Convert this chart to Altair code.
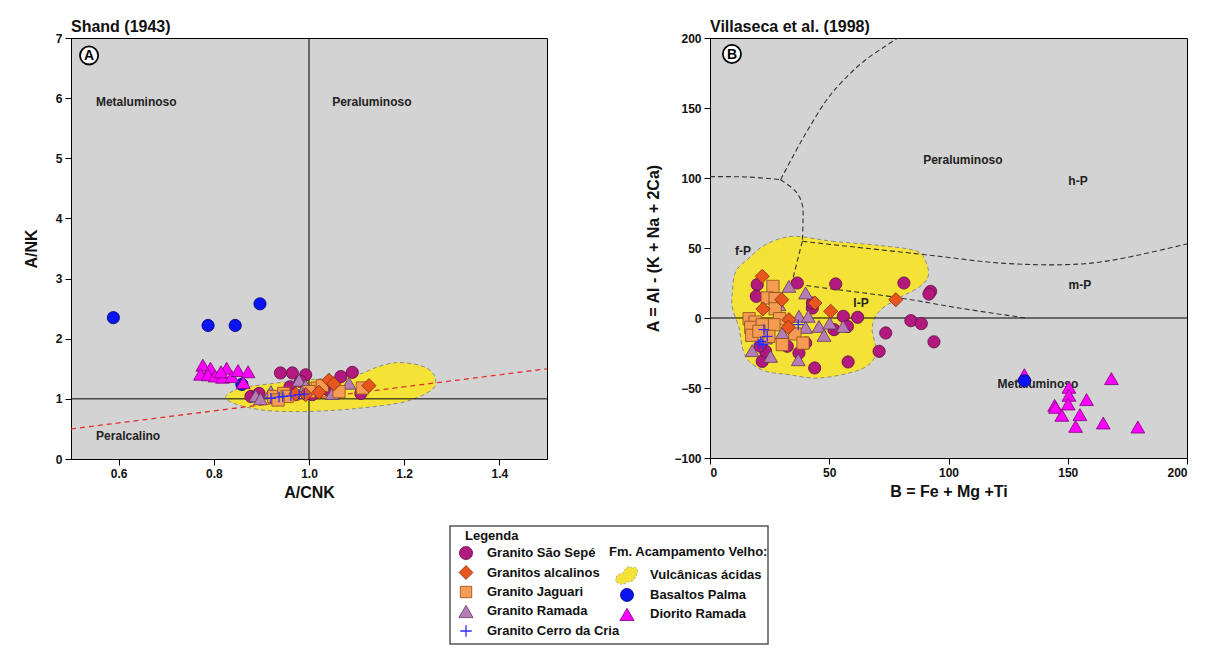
import altair as alt
import pandas as pd

FONT = "Liberation Sans"
BG = "#D3D3D3"
YEL = "#F4E336"

# ---------------- series styles ----------------
C_SEPE, S_SEPE = "#B3187E", "#5C0F42"
C_ALC, S_ALC = "#E8561E", "#7A2C0C"
C_JAG, S_JAG = "#F59B52", "#8A4C16"
C_RAM, S_RAM = "#B57DB3", "#5E3560"
C_CRIA = "#2B2BFF"
C_BAS, S_BAS = "#0A14F0", "#00007A"
C_DIO, S_DIO = "#FF00FF", "#7A007A"
PLUS = "M-1,0L1,0M0,-1L0,1"
BLOB = ("M-0.9,0.5 C-1,0.1 -0.7,-0.2 -0.35,-0.15 C-0.2,-0.6 0.2,-0.9 0.4,-0.6 "
        "C0.7,-0.8 1,-0.5 0.8,-0.1 C0.7,0.3 0.4,0.6 0.1,0.5 C-0.2,0.8 -0.6,0.8 -0.9,0.5 Z")

# ---------------- Panel A data (A/CNK vs A/NK) ----------------
a_xticks = [0.6, 0.8, 1.0, 1.2, 1.4]
a_yticks = [0, 1, 2, 3, 4, 5, 6, 7]

a_sepe_x = [0.94, 0.965, 0.993, 0.982, 1.067, 1.091, 0.878, 0.895, 1.109, 0.933, 1.007, 0.96, 1.04]
a_sepe_y = [1.43, 1.43, 1.40, 1.29, 1.37, 1.44, 1.04, 1.09, 1.09, 1.01, 1.07, 1.2, 1.15]
a_ram_x = [0.888, 0.898, 0.979, 0.993, 1.084, 1.049, 0.92]
a_ram_y = [1.05, 1.0, 1.31, 1.22, 1.26, 1.09, 1.12]
a_jag_x = [0.926, 0.947, 0.954, 1.017, 1.063, 1.112, 1.0, 0.935, 1.028]
a_jag_y = [1.04, 1.09, 1.04, 1.18, 1.12, 1.18, 1.12, 0.98, 1.22]
a_alc_x = [1.042, 1.052, 1.021, 0.993, 0.972, 1.126]
a_alc_y = [1.31, 1.25, 1.11, 1.07, 1.08, 1.22]
a_cria_x = [0.92, 0.937, 0.945, 0.962, 0.979, 0.99]
a_cria_y = [1.01, 1.03, 1.04, 1.05, 1.07, 1.08]
a_bas_x = [0.589, 0.788, 0.845, 0.897, 0.859]
a_bas_y = [2.35, 2.22, 2.22, 2.58, 1.24]
a_dio_x = [0.777, 0.793, 0.772, 0.788, 0.803, 0.818, 0.827, 0.815, 0.838, 0.851, 0.872, 0.862]
a_dio_y = [1.56, 1.51, 1.41, 1.40, 1.38, 1.36, 1.51, 1.45, 1.37, 1.47, 1.45, 1.27]

a_vulc_x = [0.825, 0.845, 0.87, 0.95, 1.02, 1.1, 1.14, 1.18, 1.22, 1.25, 1.265, 1.258, 1.2, 1.1, 1.0, 0.92, 0.87, 0.835]
a_vulc_y = [1.04, 1.15, 1.2, 1.28, 1.33, 1.40, 1.52, 1.60, 1.58, 1.50, 1.35, 1.15, 0.95, 0.84, 0.79, 0.8, 0.86, 0.95]

a_ref_x = [0.5, 1.5]
a_ref_y = [0.5, 1.5]

a_lab_text = ["Metaluminoso", "Peraluminoso", "Peralcalino"]
a_lab_x = [0.637, 1.132, 0.62]
a_lab_y = [5.94, 5.94, 0.38]

# ---------------- Panel B data (B vs A) ----------------
b_xticks = [0, 50, 100, 150, 200]
b_yticks = [-100, -50, 0, 50, 100, 150, 200]

b_sepe_x = [19.8, 19.4, 36.6, 52.7, 81.3, 92.5, 91.8, 55.9, 61.9, 52.0, 84.2, 88.6, 93.9, 73.7, 70.9, 57.9,
            43.9, 21.9, 37.3, 42.9, 42.9, 32.4, 23.3, 57.6, 40.1, 21.0]
b_sepe_y = [23.8, 15.5, 25.0, 24.3, 25.0, 19.0, 17.1, 1.2, 0.5, -8.3, -1.9, -4.0, -17.0, -10.7, -23.8, -31.4,
            -35.7, -31.0, -25.0, 7.1, 10.7, -20.2, -23.8, -6.0, -17.9, -20.0]
b_ram_x = [33.1, 40.1, 37.3, 41.2, 45.7, 50.2, 55.8, 47.8, 40.1, 17.7, 25.4, 37.0, 30.3, 23.3, 28.9]
b_ram_y = [22.6, 17.9, 1.2, 1.2, -6.0, -3.6, -6.0, -12.4, -6.7, -23.3, -27.4, -29.8, -10.7, -14.3, 9.5]
b_jag_x = [26.4, 24.0, 27.3, 27.3, 16.4, 18.9, 17.1, 17.5, 29.2, 26.8, 35.6, 39.0, 30.3, 24.7, 21.9, 20.5]
b_jag_y = [22.6, 14.3, 13.8, 6.6, -0.5, -2.9, -6.7, -12.4, -0.5, -4.8, -11.4, -17.9, -19.0, -13.1, -4.8, -9.5]
b_alc_x = [21.9, 30.1, 22.2, 44.0, 50.6, 33.1, 32.8, 77.9]
b_alc_y = [29.8, 13.1, 6.4, 10.7, 4.8, -1.2, -6.7, 13.1]
b_cria_x = [22.6, 24.0, 21.3, 20.5, 22.2, 37.0]
b_cria_y = [-8.3, -13.1, -16.7, -18.6, -19.0, -4.8]
b_bas_x = [131.9]
b_bas_y = [-44.8]
b_dio_x = [131.8, 168.3, 150.5, 150.5, 157.9, 144.5, 144.9, 150.2, 147.5, 155.1, 153.3, 164.9, 179.4]
b_dio_y = [-40.5, -43.3, -49.5, -55.2, -58.3, -62.4, -63.8, -61.4, -69.5, -69.0, -77.4, -75.0, -77.9]

b_vulc_x = [34.5, 51.3, 70, 86.2, 90.4, 91.5, 87.6, 79.2, 70.9, 68, 69.5, 68, 61.1, 45.7, 33.1, 23.3, 16.4,
            13.6, 12.2, 9.4, 9.4, 10.8, 16.4, 23.3]
b_vulc_y = [58.3, 54.8, 52, 48.1, 40.5, 30, 22, 14.3, 4.8, -7.1, -21.4, -31, -38, -42.9, -40.5, -38, -31,
            -21.4, -7.1, 7.1, 19, 33.3, 42.9, 52.4]

# dashed field boundaries (segment id, x, y)
b_seg_id = [1, 1, 1,
            2, 2, 2, 2, 2, 2, 2,
            3, 3, 3, 3, 3,
            4, 4, 4, 4, 4, 4, 4,
            5, 5,
            6, 6, 6, 6, 6]
b_seg_x = [0, 16, 29.6,
           29.6, 35.9, 41.5, 48.5, 55.5, 65.3, 78.8,
           29.6, 35.9, 38.7, 39.0, 38.7,
           38.7, 51.3, 90.4, 121.2, 149.1, 170.1, 200,
           38.7, 34.5,
           34.5, 40.1, 77.9, 104.5, 132.4]
b_seg_y = [101, 100.7, 98.8,
           98.8, 119, 135.7, 154.8, 169, 184.5, 200,
           98.8, 90.5, 80.9, 69, 54.8,
           54.8, 52.4, 45.2, 39.3, 38.1, 41.7, 52.9,
           54.8, 26.5,
           26.5, 23.3, 14.8, 7.1, 0]

b_lab_text = ["Peraluminoso", "h-P", "m-P", "f-P", "l-P", "Metaluminoso"]
b_lab_x = [106, 154.3, 155.1, 13.8, 63.3, 137.5]
b_lab_y = [113, 97.9, 23.6, 47.9, 10.7, -47.1]

# ---------------- Legend ----------------
leg1_labels = ["Granito São Sepé", "Granitos alcalinos", "Granito Jaguari", "Granito Ramada", "Granito Cerro da Cria"]
leg1_rows = [1, 2, 3, 4, 5]
leg2_labels = ["Vulcânicas ácidas", "Basaltos Palma", "Diorito Ramada"]
leg2_rows = [2.15, 3.15, 4.15]


# ---------------- helpers ----------------
def make_xy(xdom, ydom, xticks, yticks, xtitle, ytitle, xfmt, yfmt, ytp):
    def X(f="x"):
        return alt.X(f"{f}:Q", scale=alt.Scale(domain=xdom, nice=False, zero=False),
                     axis=alt.Axis(values=xticks, format=xfmt, title=xtitle, titlePadding=5))
    def Y(f="y"):
        return alt.Y(f"{f}:Q", scale=alt.Scale(domain=ydom, nice=False, zero=False),
                     axis=alt.Axis(values=yticks, format=yfmt, title=ytitle, titlePadding=ytp))
    return X, Y


def pts(xs, ys, X, Y, shape, fill, stroke, size, filled=True, sw=0.8):
    df = pd.DataFrame({"x": xs, "y": ys})
    kw = dict(shape=shape, size=size, opacity=1, strokeWidth=sw, stroke=stroke)
    if filled:
        kw.update(filled=True, fill=fill)
    else:
        kw.update(filled=False, fill="transparent")
    return alt.Chart(df).mark_point(**kw).encode(x=X(), y=Y())


def poly(xs, ys, X, Y):
    df = pd.DataFrame({"x": xs, "y": ys, "i": list(range(len(xs)))})
    return alt.Chart(df).mark_line(fill=YEL, stroke="#8a8a8a", strokeDash=[4, 3], strokeWidth=1,
                                   interpolate="cardinal-closed").encode(x=X(), y=Y(), order="i:Q")


def labels(texts, xs, ys, X, Y):
    df = pd.DataFrame({"x": xs, "y": ys, "t": texts})
    return alt.Chart(df).mark_text(font=FONT, fontSize=12, fontWeight="bold", color="#222").encode(
        x=X(), y=Y(), text="t:N")


def badge(letter, x, y, X, Y):
    df = pd.DataFrame({"x": [x], "y": [y], "t": [letter]})
    c = alt.Chart(df).mark_point(shape="circle", size=330, filled=True, fill="white", stroke="black",
                                 strokeWidth=1.8, opacity=1).encode(x=X(), y=Y())
    t = alt.Chart(df).mark_text(font=FONT, fontSize=14, fontWeight="bold", color="black", dy=1).encode(
        x=X(), y=Y(), text="t:N")
    return [c, t]


# ---------------- Panel A ----------------
XA, YA = make_xy([0.5, 1.5], [0, 7], a_xticks, a_yticks, "A/CNK", "A/NK", ".1f", "d", 16)
rule_a_v = alt.Chart(pd.DataFrame({"x": [1.0]})).mark_rule(color="black", strokeWidth=1).encode(x=XA())
rule_a_h = alt.Chart(pd.DataFrame({"y": [1.0]})).mark_rule(color="black", strokeWidth=1).encode(y=YA())
ref_a = alt.Chart(pd.DataFrame({"x": a_ref_x, "y": a_ref_y})).mark_line(
    color="#E0302E", strokeDash=[5, 4], strokeWidth=1.3).encode(x=XA(), y=YA())

panel_a = alt.layer(
    poly(a_vulc_x, a_vulc_y, XA, YA),
    rule_a_v, rule_a_h, ref_a,
    labels(a_lab_text, a_lab_x, a_lab_y, XA, YA),
    pts(a_bas_x, a_bas_y, XA, YA, "circle", C_BAS, S_BAS, 150),
    pts(a_dio_x, a_dio_y, XA, YA, "triangle-up", C_DIO, S_DIO, 190),
    pts(a_sepe_x, a_sepe_y, XA, YA, "circle", C_SEPE, S_SEPE, 150),
    pts(a_ram_x, a_ram_y, XA, YA, "triangle-up", C_RAM, S_RAM, 190),
    pts(a_jag_x, a_jag_y, XA, YA, "square", C_JAG, S_JAG, 150),
    pts(a_alc_x, a_alc_y, XA, YA, "diamond", C_ALC, S_ALC, 200),
    pts(a_cria_x, a_cria_y, XA, YA, PLUS, None, C_CRIA, 110, filled=False, sw=1.3),
    *badge("A", 0.538, 6.71, XA, YA),
).properties(width=476, height=421,
             title=alt.TitleParams("Shand (1943)", anchor="start", frame="group", offset=-3))

# ---------------- Panel B ----------------
XB, YB = make_xy([0, 200], [-100, 200], b_xticks, b_yticks, "B = Fe + Mg +Ti", "A = Al - (K + Na + 2Ca)",
                 "d", "d", 12)
rule_b_h = alt.Chart(pd.DataFrame({"y": [0]})).mark_rule(color="black", strokeWidth=1).encode(y=YB())
segs = alt.Chart(pd.DataFrame({"s": b_seg_id, "x": b_seg_x, "y": b_seg_y,
                               "i": list(range(len(b_seg_x)))})).mark_line(
    color="#333", strokeDash=[5, 3], strokeWidth=1.1, interpolate="cardinal", clip=True).encode(
    x=XB(), y=YB(), detail="s:N", order="i:Q")

panel_b = alt.layer(
    poly(b_vulc_x, b_vulc_y, XB, YB),
    rule_b_h, segs,
    labels(b_lab_text, b_lab_x, b_lab_y, XB, YB),
    pts(b_dio_x, b_dio_y, XB, YB, "triangle-up", C_DIO, S_DIO, 190),
    pts(b_bas_x, b_bas_y, XB, YB, "circle", C_BAS, S_BAS, 150),
    pts(b_sepe_x, b_sepe_y, XB, YB, "circle", C_SEPE, S_SEPE, 150),
    pts(b_ram_x, b_ram_y, XB, YB, "triangle-up", C_RAM, S_RAM, 190),
    pts(b_jag_x, b_jag_y, XB, YB, "square", C_JAG, S_JAG, 150),
    pts(b_alc_x, b_alc_y, XB, YB, "diamond", C_ALC, S_ALC, 200),
    pts(b_cria_x, b_cria_y, XB, YB, PLUS, None, C_CRIA, 110, filled=False, sw=1.3),
    *badge("B", 9.2, 188.6, XB, YB),
).properties(width=477, height=420,
             title=alt.TitleParams("Villaseca et al. (1998)", anchor="start", frame="group", offset=-3))

# ---------------- Legend panel ----------------
LX = lambda f="col": alt.X(f"{f}:Q", scale=alt.Scale(domain=[-0.0994, 1.8758], nice=False, zero=False), axis=None)
LY = lambda f="row": alt.Y(f"{f}:Q", scale=alt.Scale(domain=[-0.385, 5.667], reverse=True, nice=False, zero=False), axis=None)

leg_styles1 = [("circle", C_SEPE, S_SEPE, 170, True),
               ("diamond", C_ALC, S_ALC, 190, True),
               ("square", C_JAG, S_JAG, 130, True),
               ("triangle-up", C_RAM, S_RAM, 200, True),
               ("PLUS", None, C_CRIA, 130, False)]
leg_styles2 = [("BLOB", YEL, "#9a9a9a", 600, True),
               ("circle", C_BAS, S_BAS, 170, True),
               ("triangle-up", C_DIO, S_DIO, 200, True)]

leg_layers = []
for (shape, fill, stroke, size, filled), row in zip(leg_styles1, leg1_rows):
    shp = PLUS if shape == "PLUS" else shape
    df = pd.DataFrame({"col": [0], "row": [row]})
    kw = dict(shape=shp, size=size, opacity=1, stroke=stroke, strokeWidth=0.8 if filled else 1.3)
    kw.update(dict(filled=True, fill=fill) if filled else dict(filled=False, fill="transparent"))
    leg_layers.append(alt.Chart(df).mark_point(**kw).encode(x=LX(), y=LY()))
for (shape, fill, stroke, size, filled), row in zip(leg_styles2, leg2_rows):
    shp = BLOB if shape == "BLOB" else shape
    df = pd.DataFrame({"col": [1], "row": [row]})
    kw = dict(shape=shp, size=size, opacity=1, stroke=stroke, strokeWidth=0.8, filled=True, fill=fill)
    if shape == "BLOB":
        kw["strokeDash"] = [2, 2]
    leg_layers.append(alt.Chart(df).mark_point(**kw).encode(x=LX(), y=LY()))

txt_kw = dict(font=FONT, fontSize=13, fontWeight="bold", color="#111", align="left")
leg_text1 = alt.Chart(pd.DataFrame({"col": [0] * 5, "row": leg1_rows, "t": leg1_labels})).mark_text(
    dx=21, **txt_kw).encode(x=LX(), y=LY(), text="t:N")
leg_text2 = alt.Chart(pd.DataFrame({"col": [1] * 3, "row": leg2_rows, "t": leg2_labels})).mark_text(
    dx=23, **txt_kw).encode(x=LX(), y=LY(), text="t:N")
leg_head1 = alt.Chart(pd.DataFrame({"col": [0], "row": [0.12], "t": ["Legenda"]})).mark_text(
    dx=-1, **txt_kw).encode(x=LX(), y=LY(), text="t:N")
leg_head2 = alt.Chart(pd.DataFrame({"col": [1], "row": [0.95], "t": ["Fm. Acampamento Velho:"]})).mark_text(
    dx=-18, **txt_kw).encode(x=LX(), y=LY(), text="t:N")

legend = alt.layer(*leg_layers, leg_text1, leg_text2, leg_head1, leg_head2).properties(
    width=318, height=118,
    view=alt.ViewBackground(fill="white", stroke="#555555", strokeWidth=1.5))

# invisible spacer that pushes the legend box to its place under the panels
spacer = alt.Chart(pd.DataFrame({"col": [0], "row": [0]})).mark_point(opacity=0).encode(
    x=alt.X("col:Q", axis=None), y=alt.Y("row:Q", axis=None)).properties(
    width=378, height=118, view=alt.ViewBackground(fill="white", stroke=None))

top = alt.hconcat(panel_a, panel_b, spacing=94)
bottom = alt.hconcat(spacer, legend, spacing=0)
chart = alt.vconcat(top, bottom, spacing=24).properties(
    padding={"left": 14, "top": 10, "right": 5, "bottom": 5}
).configure_view(
    fill=BG, stroke="black", strokeWidth=1
).configure_axis(
    labelFont=FONT, labelFontSize=12, labelFontWeight="bold", labelColor="#111",
    titleFont=FONT, titleFontSize=16, titleFontWeight="bold", titleColor="#111",
    domainColor="black", tickColor="black", tickSize=6, grid=False, labelPadding=3
).configure_title(
    font=FONT, fontSize=16, fontWeight="bold", color="#111"
)

chart.save("out.html", embed_options={"renderer": "svg", "actions": False})
